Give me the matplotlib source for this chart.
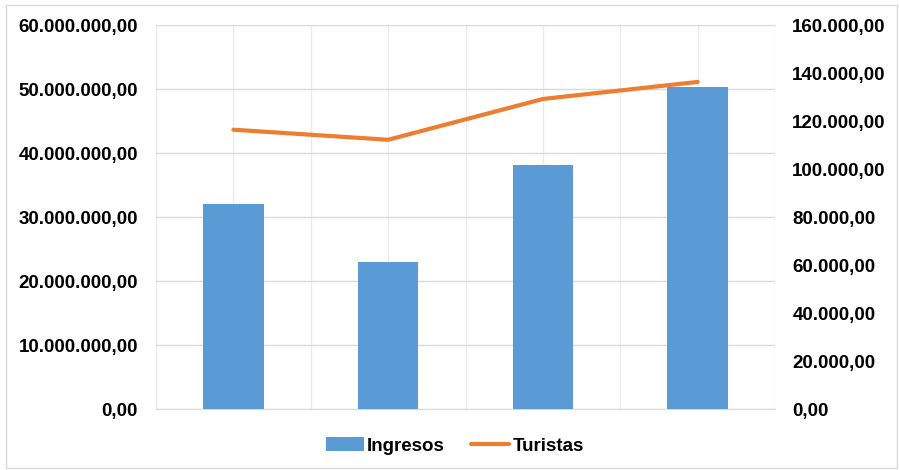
import matplotlib
matplotlib.use("Agg")
import matplotlib.pyplot as plt
from matplotlib.patches import Rectangle
from matplotlib.ticker import FuncFormatter, MultipleLocator
import numpy as np

categories = ["1", "2", "3", "4"]
ingresos = [32100000, 23000000, 38100000, 50400000]
turistas = [116500, 112300, 129300, 136400]
left_ticks = [0, 10000000, 20000000, 30000000, 40000000, 50000000, 60000000]
right_ticks = [0, 20000, 40000, 60000, 80000, 100000, 120000, 140000, 160000]

plt.rcParams['font.family'] = ['Liberation Sans', 'DejaVu Sans']

def fmt_es(v, pos=None):
    s = f"{v:,.2f}"
    return s.replace(",", "X").replace(".", ",").replace("X", ".")

fig = plt.figure(figsize=(8.99, 4.70), dpi=100)
W, H = 899, 470
ax = fig.add_axes([156 / W, 1 - 409.3 / H, (775 - 156) / W, (409.3 - 25.3) / H])
ax2 = ax.twinx()

x = np.arange(len(categories))
bars = ax.bar(x, ingresos, width=0.39, color="#5B9BD5", zorder=3, label="Ingresos")
ax.set_xlim(-0.5, len(categories) - 0.5)
ax.set_ylim(left_ticks[0], left_ticks[-1])
ax.set_yticks(left_ticks)
ax.yaxis.set_major_formatter(FuncFormatter(fmt_es))
ax.set_xticks([])
ax.xaxis.set_minor_locator(MultipleLocator(0.5))
ax.grid(True, axis="y", color="#D9D9D9", lw=1, zorder=0)
ax.grid(True, axis="x", which="minor", color="#EBEBEB", lw=1, zorder=0)
ax.tick_params(axis="x", which="both", length=0)
ax.tick_params(axis="y", length=0, pad=13, labelsize=13.5)
for t in ax.get_yticklabels():
    t.set_fontweight("bold")
for s in ["top", "left", "right"]:
    ax.spines[s].set_visible(False)
ax.spines["bottom"].set_color("#D9D9D9")

line, = ax2.plot(x, turistas, color="#ED7D31", lw=3, solid_capstyle="round", zorder=4, label="Turistas")
ax2.set_ylim(right_ticks[0], right_ticks[-1])
ax2.set_yticks(right_ticks)
ax2.yaxis.set_major_formatter(FuncFormatter(fmt_es))
ax2.tick_params(axis="y", length=0, pad=12.5, labelsize=13.5)
for t in ax2.get_yticklabels():
    t.set_fontweight("bold")
for s in ["top", "left", "right", "bottom"]:
    ax2.spines[s].set_visible(False)

fig.legend([bars, line], ["Ingresos", "Turistas"], loc="center", bbox_to_anchor=(455 / W, 1 - 446 / H),
           ncol=2, frameon=False, prop={"weight": "bold", "size": 13.5},
           handlelength=2.0, handletextpad=0.2, columnspacing=1.4)

fig.patches.append(Rectangle((6 / W, 2 / H), (897 - 6) / W, (465 - 2) / H, transform=fig.transFigure,
                             fill=False, edgecolor="#D9D9D9", lw=1))

fig.savefig("out.png", dpi=100)
